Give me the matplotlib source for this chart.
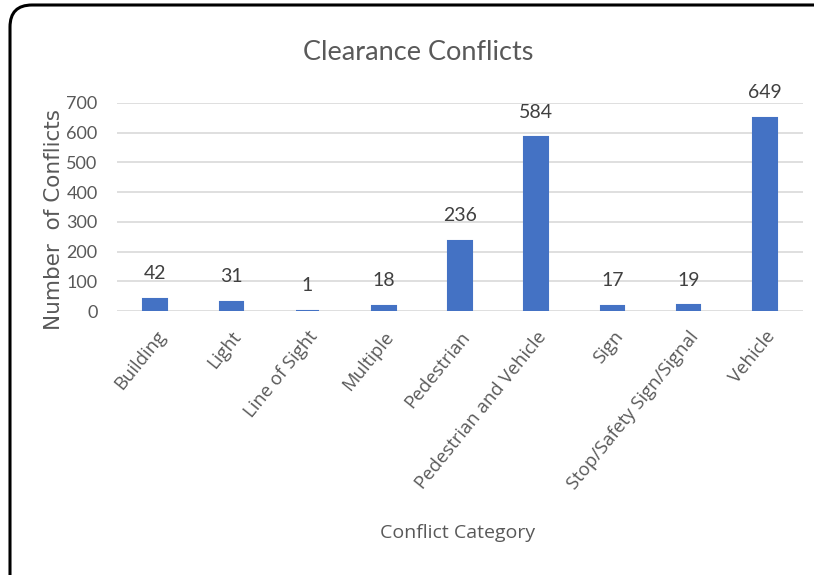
import matplotlib
matplotlib.use("Agg")
import matplotlib.pyplot as plt
from matplotlib.patches import FancyBboxPatch
from matplotlib.transforms import IdentityTransform

categories = ["Building", "Light", "Line of Sight", "Multiple", "Pedestrian",
              "Pedestrian and Vehicle", "Sign", "Stop/Safety Sign/Signal", "Vehicle"]
values = [42, 31, 1, 18, 236, 584, 17, 19, 649]
yticks = [0, 100, 200, 300, 400, 500, 600, 700]

W, H = 814, 575
fig = plt.figure(figsize=(W / 100, H / 100), dpi=100)
fig.patch.set_facecolor("white")

ax = fig.add_axes([117 / W, 1 - 311 / H, (803 - 117) / W, (311 - 103) / H])
x = list(range(len(categories)))
ax.bar(x, values, width=0.31, color="#4472C4", edgecolor="#4472C4",
       linewidth=1.5, zorder=3)
ax.set_xlim(-0.5, len(categories) - 0.5)
ax.set_ylim(0, 700)
ax.set_yticks(yticks)
ax.set_yticklabels([str(t) for t in yticks], fontfamily="Lato",
                   fontsize=13, color="#595959")
ax.yaxis.grid(True, color="#D9D9D9", linewidth=1.2, zorder=0)
ax.set_axisbelow(True)
for s in ax.spines.values():
    s.set_visible(False)
ax.tick_params(axis="y", length=0, pad=14)
ax.tick_params(axis="x", length=0, pad=12)
ax.set_xticks(x)
ax.set_xticklabels(categories, rotation=51, ha="right", va="top",
                   rotation_mode="anchor", fontfamily="Open Sans", fontsize=13.3,
                   color="#595959")

for xi, v in zip(x, values):
    ax.annotate(str(v), (xi, v), xytext=(0, 12), textcoords="offset points",
                ha="center", va="bottom", fontfamily="Lato",
                fontsize=14, color="#404040")

ax.set_ylabel("Number  of Conflicts", fontfamily="DejaVu Sans", fontsize=15.5,
              color="#595959")
ax.yaxis.set_label_coords(-0.077, 0.44)

fig.text(418 / W, 1 - 52 / H, "Clearance Conflicts", ha="center", va="center",
         fontfamily="Lato", fontweight="normal", fontsize=19.5, color="#595959")
fig.text(458 / W, 1 - 533 / H, "Conflict Category", ha="center", va="center",
         fontfamily="Open Sans", fontsize=14, color="#595959")

frame = FancyBboxPatch((10, -30), 840, (H - 5) + 30,
                       boxstyle="round,pad=0,rounding_size=22",
                       transform=IdentityTransform(), facecolor="none",
                       edgecolor="black", linewidth=2.2)
fig.patches.append(frame)

fig.savefig("out.png", dpi=100, facecolor="white")
